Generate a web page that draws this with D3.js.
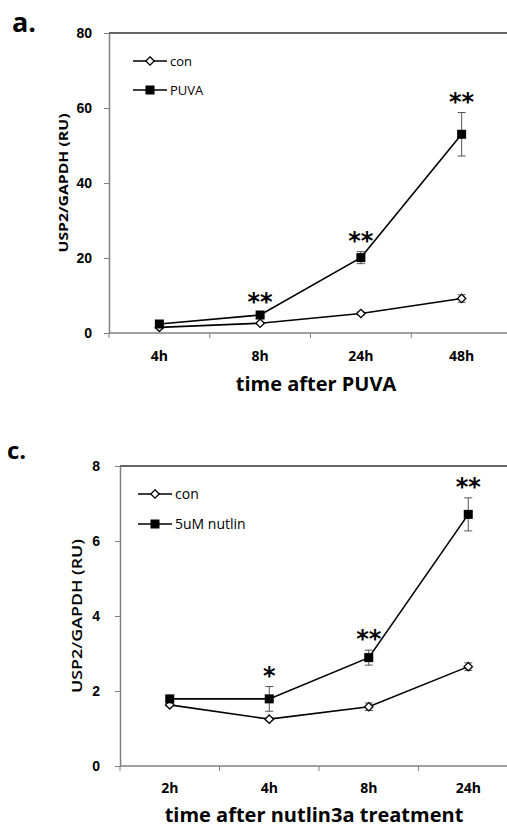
<!DOCTYPE html>
<html>
<head>
<meta charset="utf-8">
<script src="https://cdn.jsdelivr.net/npm/d3@7"></script>
<style>
  body { margin: 0; background: #fff; }
  svg { display: block; font-family: "Open Sans", sans-serif; }
</style>
</head>
<body>
<div id="chart"></div>
<script>
// panel a data
var catsA = ["4h", "8h", "24h", "48h"];
var conA = [1.5, 2.6, 5.2, 9.2];
var conErrA = [0.3, 0.3, 0.4, 1.0];
var puvaA = [2.4, 4.8, 20.1, 53];
var puvaErrA = [0.4, 0.5, 1.6, 5.8];
var sigA = ["", "**", "**", "**"];
var ticksA = [0, 20, 40, 60, 80];

// panel c data
var catsC = ["2h", "4h", "8h", "24h"];
var conC = [1.63, 1.25, 1.58, 2.65];
var conErrC = [0.04, 0.04, 0.1, 0.1];
var nutC = [1.79, 1.79, 2.89, 6.71];
var nutErrC = [0.05, 0.33, 0.2, 0.44];
var sigC = ["", "*", "**", "**"];
var ticksC = [0, 2, 4, 6, 8];

var svg = d3.select("#chart")
  .append("svg")
    .attr("width", 507)
    .attr("height", 827);

function drawPanel(p) {
    var g = svg.append("g");

    var x = d3.scaleBand()
        .domain(p.cats)
        .range([p.left, p.right])
        .padding(0);

    var y = d3.scaleLinear()
        .domain([0, d3.max(p.ticks)])
        .range([p.bottom, p.top]);

    // top border of plot area
    g.append("line")
        .attr("x1", p.left).attr("x2", p.right)
        .attr("y1", p.top).attr("y2", p.top)
        .attr("stroke", "#333").attr("stroke-width", 1.3);

    // y axis
    var yAxis = g.append("g")
        .attr("transform", "translate(" + p.left + ",0)")
        .call(d3.axisLeft(y).tickValues(p.ticks).tickSize(5).tickPadding(p.tickPad).tickSizeOuter(0));
    yAxis.selectAll("text")
        .style("font-size", p.tickFont + "px")
        .style("font-weight", "bold")
        .attr("fill", "#000");

    // x axis with ticks between categories
    var xAxis = g.append("g")
        .attr("transform", "translate(0," + p.bottom + ")");
    xAxis.append("line")
        .attr("x1", p.left).attr("x2", p.right)
        .attr("stroke", "#808080").attr("stroke-width", 1.5);
    xAxis.selectAll(".xt")
        .data(p.cats)
        .enter().append("line")
        .attr("class", "xt")
        .attr("x1", function(d) { return x(d); })
        .attr("x2", function(d) { return x(d); })
        .attr("y1", 0).attr("y2", 5)
        .attr("stroke", "#808080");
    xAxis.selectAll(".xl")
        .data(p.cats)
        .enter().append("text")
        .attr("class", "xl")
        .attr("x", function(d) { return x(d) + x.bandwidth() / 2; })
        .attr("y", p.xLabelDy)
        .attr("text-anchor", "middle")
        .style("font-size", p.tickFont + "px")
        .style("font-weight", "bold")
        .text(function(d) { return d; });

    yAxis.select(".domain").attr("stroke", "#808080").attr("stroke-width", 1.5);
    yAxis.selectAll(".tick line").attr("stroke", "#808080");

    var line = d3.line()
        .x(function(d, i) { return x(p.cats[i]) + x.bandwidth() / 2; })
        .y(function(d) { return y(d); });

    [p.s1, p.s2].forEach(function(s) {
        // series line
        g.append("path")
            .datum(s.values)
            .attr("d", line)
            .attr("fill", "none")
            .attr("stroke", "#000")
            .attr("stroke-width", 1.6);

        // error bars
        var eb = g.selectAll(null)
            .data(s.values)
            .enter().append("g")
            .attr("stroke", "#555")
            .attr("stroke-width", 1);
        eb.append("line")
            .attr("x1", function(d, i) { return x(p.cats[i]) + x.bandwidth() / 2; })
            .attr("x2", function(d, i) { return x(p.cats[i]) + x.bandwidth() / 2; })
            .attr("y1", function(d, i) { return y(d - s.err[i]); })
            .attr("y2", function(d, i) { return y(d + s.err[i]); });
        eb.append("line")
            .attr("x1", function(d, i) { return x(p.cats[i]) + x.bandwidth() / 2 - 4; })
            .attr("x2", function(d, i) { return x(p.cats[i]) + x.bandwidth() / 2 + 4; })
            .attr("y1", function(d, i) { return y(d + s.err[i]); })
            .attr("y2", function(d, i) { return y(d + s.err[i]); });
        eb.append("line")
            .attr("x1", function(d, i) { return x(p.cats[i]) + x.bandwidth() / 2 - 4; })
            .attr("x2", function(d, i) { return x(p.cats[i]) + x.bandwidth() / 2 + 4; })
            .attr("y1", function(d, i) { return y(d - s.err[i]); })
            .attr("y2", function(d, i) { return y(d - s.err[i]); });
    });

    // markers
    function marker(sel, type) {
        if (type === "square") {
            sel.append("rect")
                .attr("x", -4.5).attr("y", -4.5)
                .attr("width", 9).attr("height", 9)
                .attr("fill", "#000");
        } else {
            sel.append("path")
                .attr("d", "M0,-4.2L4.2,0L0,4.2L-4.2,0Z")
                .attr("fill", "#fff")
                .attr("stroke", "#000")
                .attr("stroke-width", 1.3);
        }
    }
    [p.s1, p.s2].forEach(function(s) {
        g.selectAll(null)
            .data(s.values)
            .enter().append("g")
            .attr("transform", function(d, i) {
                return "translate(" + (x(p.cats[i]) + x.bandwidth() / 2) + "," + y(d) + ")";
            })
            .call(marker, s.type);
    });

    // significance stars above the treated series
    g.selectAll(".sig")
        .data(p.sig)
        .enter().append("text")
        .attr("class", "sig")
        .attr("x", function(d, i) { return x(p.cats[i]) + x.bandwidth() / 2; })
        .attr("y", function(d, i) { return y(p.s2.values[i] + p.s2.err[i]) - 3; })
        .attr("text-anchor", "middle")
        .style("font-family", "DejaVu Sans")
        .style("font-size", "24px")
        .style("font-weight", "bold")
        .text(function(d) { return d; });

    // legend
    [p.s1, p.s2].forEach(function(s, k) {
        var lg = g.append("g")
            .attr("transform", "translate(" + p.legX + "," + (p.legY + k * p.legStep) + ")");
        lg.append("line")
            .attr("x1", 0).attr("x2", 34)
            .attr("stroke", "#000").attr("stroke-width", 1.6);
        lg.append("g").attr("transform", "translate(17,0)").call(marker, s.type);
        lg.append("text")
            .attr("x", 37).attr("dy", "0.35em")
            .style("font-size", p.legFont + "px")
            .text(s.name);
    });

    // y-axis label
    g.append("text")
        .attr("text-anchor", "middle")
        .attr("transform", "translate(" + p.yLabelX + "," + ((p.top + p.bottom) / 2) + ") rotate(-90)")
        .attr("dy", "0.35em")
        .attr("textLength", p.yLabelLen)
        .attr("lengthAdjust", "spacingAndGlyphs")
        .style("font-size", p.yLabelFont + "px")
        .style("font-weight", p.yLabelWeight)
        .text("USP2/GAPDH (RU)");

    // x-axis title
    g.append("text")
        .attr("text-anchor", "middle")
        .attr("x", p.titleX)
        .attr("y", p.titleY)
        .style("font-size", "20px")
        .style("font-weight", "bold")
        .text(p.title);

    // panel letter
    g.append("text")
        .attr("x", p.letterX)
        .attr("y", p.letterY)
        .style("font-size", p.letterFont + "px")
        .style("font-weight", "bold")
        .text(p.letter);
}

drawPanel({
    cats: catsA, ticks: ticksA, sig: sigA,
    s1: { name: "con", values: conA, err: conErrA, type: "diamond" },
    s2: { name: "PUVA", values: puvaA, err: puvaErrA, type: "square" },
    left: 109, right: 512, top: 33, bottom: 333,
    tickPad: 12, tickFont: 14, xLabelDy: 28,
    legX: 133, legY: 61, legStep: 29, legFont: 13,
    yLabelX: 63, yLabelLen: 139, yLabelFont: 13, yLabelWeight: "bold",
    title: "time after PUVA", titleX: 316, titleY: 391,
    letter: "a.", letterX: 12, letterY: 32, letterFont: 27
});

drawPanel({
    cats: catsC, ticks: ticksC, sig: sigC,
    s1: { name: "con", values: conC, err: conErrC, type: "diamond" },
    s2: { name: "5uM nutlin", values: nutC, err: nutErrC, type: "square" },
    left: 120, right: 518, top: 466, bottom: 766,
    tickPad: 15, tickFont: 14, xLabelDy: 27,
    legX: 138, legY: 494, legStep: 30, legFont: 14,
    yLabelX: 77, yLabelLen: 154, yLabelFont: 15, yLabelWeight: 600,
    title: "time after nutlin3a treatment", titleX: 314, titleY: 822,
    letter: "c.", letterX: 7, letterY: 459, letterFont: 24
});
</script>
</body>
</html>
